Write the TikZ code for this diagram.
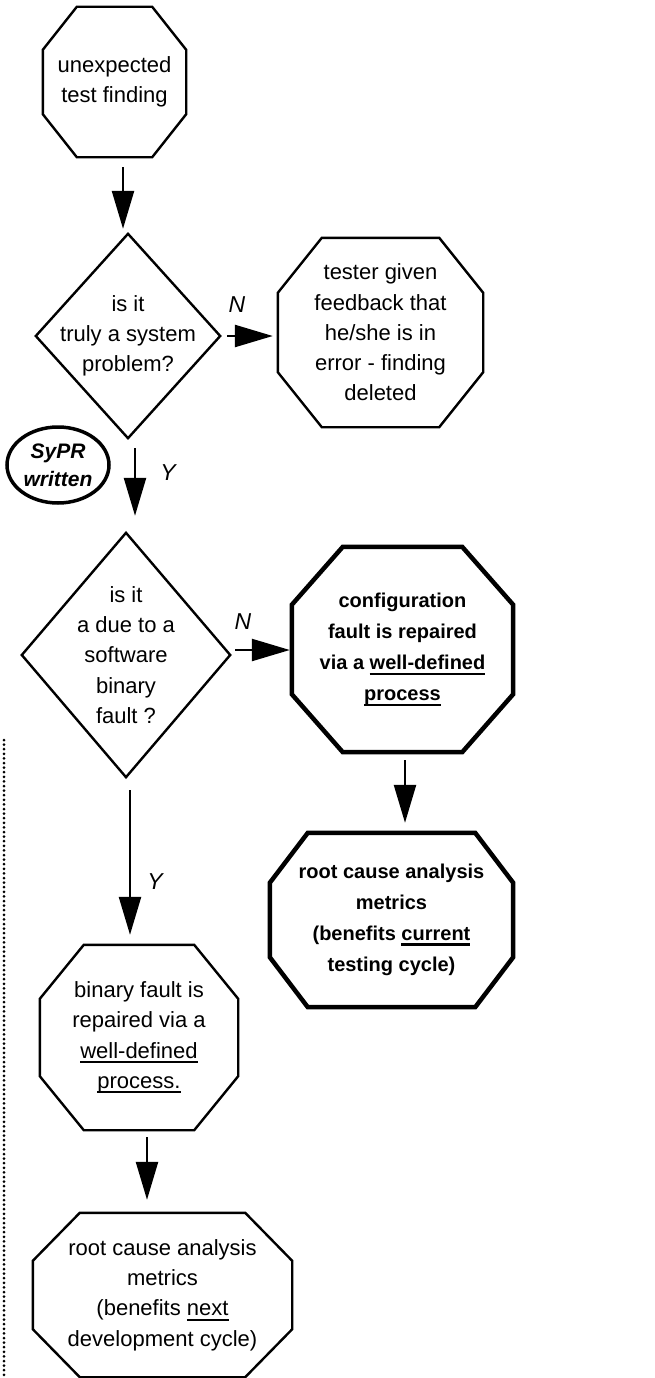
\documentclass[tikz,border=0pt]{standalone}
\usepackage{fontspec}
\setmainfont{Liberation Sans}
\usetikzlibrary{arrows.meta,shapes.geometric}
\newsavebox\ulbox
\newcommand\myul[1]{\sbox\ulbox{#1}\rlap{\rule[-5pt]{\wd\ulbox}{2.2pt}}\usebox\ulbox}
\newcommand\octo[9]{%
  \node[#2, minimum width=#5, minimum height=#6] (#3) at (#4) {#9};
  \draw[#1] ([xshift=#7]#3.north west) -- ([xshift=-#7]#3.north east) -- ([yshift=-#8]#3.north east)
    -- ([yshift=#8]#3.south east) -- ([xshift=-#7]#3.south east) -- ([xshift=#7]#3.south west)
    -- ([yshift=#8]#3.south west) -- ([yshift=-#8]#3.north west) -- cycle;}
\newcommand\diam[7]{%
  \node[#2, minimum width=#5, minimum height=#6] (#3) at (#4) {#7};
  \draw[#1] (#3.north) -- (#3.east) -- (#3.south) -- (#3.west) -- cycle;}
\tikzset{
  plain/.style={line width=2.4pt, line join=miter},
  heavy/.style={line width=4.5pt, line join=miter},
  txt/.style={inner sep=0pt, align=center, font=\fontsize{22}{30.3}\selectfont},
  btxt/.style={inner sep=0pt, align=center, font=\bfseries\fontsize{20}{31}\selectfont},
  arr/.style={line width=2.4pt, -{Triangle[length=38pt,width=22pt]}},
  lab/.style={font=\itshape\fontsize{23}{23}\selectfont, inner sep=0pt},
}
\begin{document}
\begin{tikzpicture}[x=1pt,y=-1pt]
\fill[white] (0,0) rectangle (654,1378);
\useasboundingbox (0,0) rectangle (654,1378);

\octo{plain}{txt}{o1}{114.5,82}{143pt}{150pt}{34pt}{43pt}{unexpected\\test finding}
\diam{plain}{txt}{d1}{128,336}{184pt}{204pt}{is it\\truly a system\\problem?}
\octo{plain}{txt}{tester}{380.5,332.5}{205pt}{189pt}{44pt}{55pt}{tester given\\feedback that\\he/she is in\\error - finding\\deleted}
\node[ellipse, draw, line width=3.5pt, minimum width=102pt, minimum height=76pt, inner sep=0pt,
  align=center, font=\bfseries\itshape\fontsize{21}{28}\selectfont] (sypr) at (58,465) {SyPR\\written};
\diam{plain}{txt}{d2}{126,655}{208pt}{244pt}{is it\\a due to a\\software\\binary\\fault ?}
\octo{heavy}{btxt}{config}{402.5,649.5}{221pt}{205pt}{51pt}{58pt}{configuration\\fault is repaired\\via a \myul{well-defined}\\\myul{process}}
\octo{heavy}{btxt}{rca1}{391.5,920}{243pt}{174pt}{38pt}{50pt}{root cause analysis\\metrics\\(benefits \myul{current}\\testing cycle)}
\octo{plain}{txt}{binary}{139,1037.5}{198pt}{185pt}{44pt}{54pt}{binary fault is\\repaired via a\\\myul{well-defined}\\\myul{process.}}
\octo{plain}{txt}{rca2}{162.5,1295}{259pt}{164pt}{47pt}{48pt}{root cause analysis\\metrics\\(benefits \myul{next}\\development cycle)}

\draw[arr] ([xshift=8.5pt,yshift=-10pt]o1.south) -- ([xshift=-5pt,yshift=5pt]d1.north);
\draw[arr] ([xshift=7pt]d1.east) -- ([xshift=-5pt]d1.east -| tester.west);
\draw[arr] ([xshift=7pt,yshift=-10pt]d1.south) -- ([xshift=9pt,yshift=17pt]d2.north);
\draw[arr] ([xshift=5pt,yshift=5pt]d2.east) -- ([xshift=-2pt,yshift=5pt]d2.east -| config.west);
\draw[arr] ([xshift=2.5pt,yshift=-8pt]config.south) -- ([xshift=13.5pt,yshift=10pt]rca1.north);
\draw[arr] ([xshift=4pt,yshift=-13pt]d2.south) -- ([xshift=-9pt,yshift=10pt]binary.north);
\draw[arr] ([xshift=8pt,yshift=-7pt]binary.south) -- ([xshift=-15.5pt,yshift=13pt]rca2.north);

\node[lab] (n1) at (237,305) {N};
\node[lab] (y1) at (168,473) {Y};
\node[lab] (n2) at (243,622) {N};
\node[lab] (y2) at (155,882) {Y};

\coordinate (dtop) at (4,740);
\coordinate (dbot) at (4,1376);
\draw[line width=3pt, line cap=round, dash pattern=on 0pt off 4.6pt] (dtop) -- (dbot);
\end{tikzpicture}
\end{document}
